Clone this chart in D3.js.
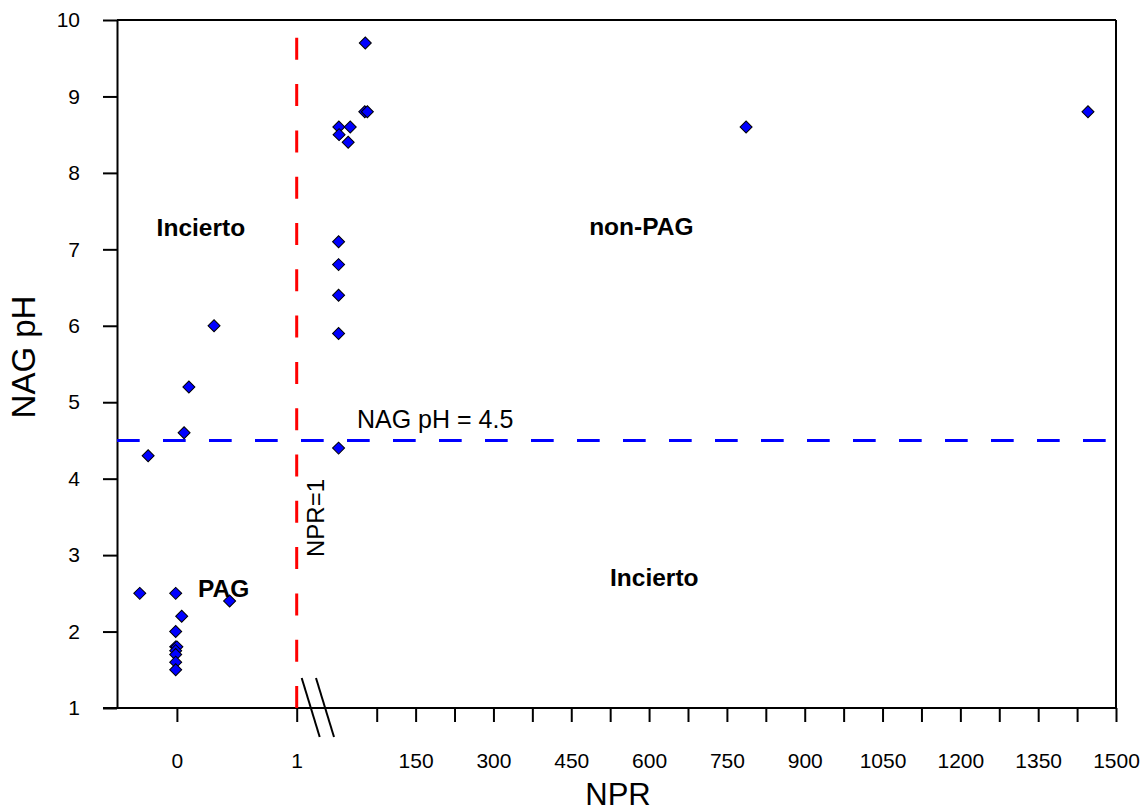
<!DOCTYPE html>
<html>
<head>
<meta charset="utf-8">
<script src="https://cdn.jsdelivr.net/npm/d3@7"></script>
<style>
  body { margin: 0; background: #fff; }
  svg { display: block; font-family: "Liberation Sans", Arial, Helvetica, sans-serif; }
</style>
</head>
<body>
<svg id="chart" width="1147" height="811"></svg>
<script>
// Samples: net potential ratio (NPR) and NAG pH
const nprValues = [-0.24, 0.06, 0.10, 0.31, -0.31, -0.01, 0.44, 0.04, -0.01, -0.01, 0.00, -0.01, -0.01, -0.01, -0.01,
                   1.5, 1.5, 1.5, 1.5, 1.5, 2.0, 2.5, 20, 24, 52, 57, 53, 787, 1446];
const phValues  = [4.3, 4.6, 5.2, 6.0, 2.5, 2.5, 2.4, 2.2, 2.0, 1.8, 1.8, 1.75, 1.7, 1.6, 1.5,
                   4.4, 5.9, 6.4, 6.8, 7.1, 8.6, 8.5, 8.4, 8.6, 8.8, 8.8, 9.7, 8.6, 8.8];

// Axis ticks
const yTickValues = [1, 2, 3, 4, 5, 6, 7, 8, 9, 10];
const lowTickValues = [0, 1];
const highTickValues = [75, 150, 225, 300, 375, 450, 525, 600, 675, 750, 825, 900, 975, 1050, 1125, 1200, 1275, 1350, 1425, 1500];
const highTickLabels = [150, 300, 450, 600, 750, 900, 1050, 1200, 1350, 1500];

// Classification thresholds
const phThreshold = 4.5;
const nprThreshold = 1;

// Zone names and where they sit (NPR, pH)
const zoneNames = ["Incierto", "non-PAG", "PAG", "Incierto"];
const zoneNpr = [0.2, 585, 0.39, 610];
const zonePh = [7.29, 7.3, 2.56, 2.71];

(function draw() {
  const svg = d3.select("#chart");
  const mLeft = 117, mRight = 1116, mTop = 20, mBottom = 708;

  const y = d3.scaleLinear().domain([1, 10]).range([mBottom, mTop]);
  // Broken NPR axis: a stretched low segment up to NPR = 1, then the full range
  const xLow = d3.scaleLinear().domain([-0.5, 1]).range([mLeft, 296.7]);
  const xHigh = d3.scaleLinear().domain([0, 1500]).range([337.8, mRight]);
  const x = v => (v <= nprThreshold ? xLow(v) : xHigh(v));

  const tickFont = "21px";

  // Frame
  const frame = svg.append("g").attr("stroke", "#000").attr("stroke-width", 2).attr("fill", "none");
  frame.append("line").attr("x1", mLeft).attr("x2", mRight).attr("y1", mTop).attr("y2", mTop);
  frame.append("line").attr("x1", mRight).attr("x2", mRight).attr("y1", mTop).attr("y2", mBottom);

  // Y axis
  const yAxis = svg.append("g").attr("transform", `translate(${mLeft},0)`)
    .call(d3.axisLeft(y).tickValues(yTickValues).tickFormat(d3.format("d")).tickSize(14).tickPadding(23).tickSizeOuter(0));
  yAxis.select(".domain").attr("stroke-width", 2);
  yAxis.selectAll(".tick line").attr("stroke-width", 2);
  yAxis.selectAll(".tick text").attr("font-size", tickFont).attr("fill", "#000");
  yAxis.attr("font-family", null).attr("font-size", null);

  // Bottom axis line (spans under both segments)
  svg.append("line").attr("x1", mLeft - 14).attr("x2", mRight).attr("y1", mBottom).attr("y2", mBottom)
    .attr("stroke", "#000").attr("stroke-width", 2);

  const lowAxis = svg.append("g").attr("transform", `translate(0,${mBottom})`)
    .call(d3.axisBottom(xLow).tickValues(lowTickValues).tickFormat(d3.format("d")).tickSize(14).tickPadding(31).tickSizeOuter(0));
  const highAxis = svg.append("g").attr("transform", `translate(0,${mBottom})`)
    .call(d3.axisBottom(xHigh).tickValues(highTickValues)
      .tickFormat(d => (highTickLabels.includes(d) ? d : "")).tickSize(14).tickPadding(31).tickSizeOuter(0));
  [lowAxis, highAxis].forEach(g => {
    g.select(".domain").remove();
    g.attr("font-family", null).attr("font-size", null);
    g.selectAll(".tick line").attr("stroke-width", 2);
    g.selectAll(".tick text").attr("font-size", tickFont).attr("fill", "#000");
  });

  // Axis break marks
  const breakX = [301.7, 316];
  svg.append("g").selectAll("line").data(breakX).join("line")
    .attr("x1", d => d).attr("y1", mBottom - 30)
    .attr("x2", d => d + 18).attr("y2", mBottom + 29)
    .attr("stroke", "#000").attr("stroke-width", 2);

  // Threshold lines
  svg.append("line")
    .attr("x1", x(nprThreshold)).attr("x2", x(nprThreshold))
    .attr("y1", mBottom).attr("y2", mTop)
    .attr("stroke", "#ff0000").attr("stroke-width", 3).attr("stroke-dasharray", "22 24.3");
  svg.append("line")
    .attr("x1", mLeft).attr("x2", mRight)
    .attr("y1", y(phThreshold)).attr("y2", y(phThreshold))
    .attr("stroke", "#0000ff").attr("stroke-width", 3).attr("stroke-dasharray", "22.7 23.3");

  // Samples
  const points = nprValues.map((v, i) => ({ npr: v, ph: phValues[i] }));
  svg.append("g").selectAll("path").data(points).join("path")
    .attr("d", d3.symbol(d3.symbolSquare, 72))
    .attr("transform", d => `translate(${x(d.npr)},${y(d.ph)}) rotate(45)`)
    .attr("fill", "#0000ff").attr("stroke", "#000").attr("stroke-width", 1);

  // Zone labels
  svg.append("g").selectAll("text").data(zoneNames).join("text")
    .attr("x", (d, i) => x(zoneNpr[i])).attr("y", (d, i) => y(zonePh[i]))
    .attr("dy", "0.35em").attr("text-anchor", "middle")
    .attr("font-size", "24.5px").attr("font-weight", "bold").text(d => d);

  // Threshold labels
  svg.append("text").attr("x", 357).attr("y", y(phThreshold) - 12)
    .attr("font-size", "25px").text(`NAG pH = ${phThreshold}`);
  svg.append("text")
    .attr("transform", `translate(${x(nprThreshold) + 27},${518}) rotate(-90)`)
    .attr("text-anchor", "middle").attr("font-size", "24px").text(`NPR=${nprThreshold}`);

  // Axis titles
  svg.append("text").attr("x", 618).attr("y", 805).attr("text-anchor", "middle")
    .attr("font-size", "31px").text("NPR");
  svg.append("text").attr("transform", `translate(35,357) rotate(-90)`).attr("text-anchor", "middle")
    .attr("font-size", "33px").text("NAG pH");
})();
</script>
</body>
</html>
